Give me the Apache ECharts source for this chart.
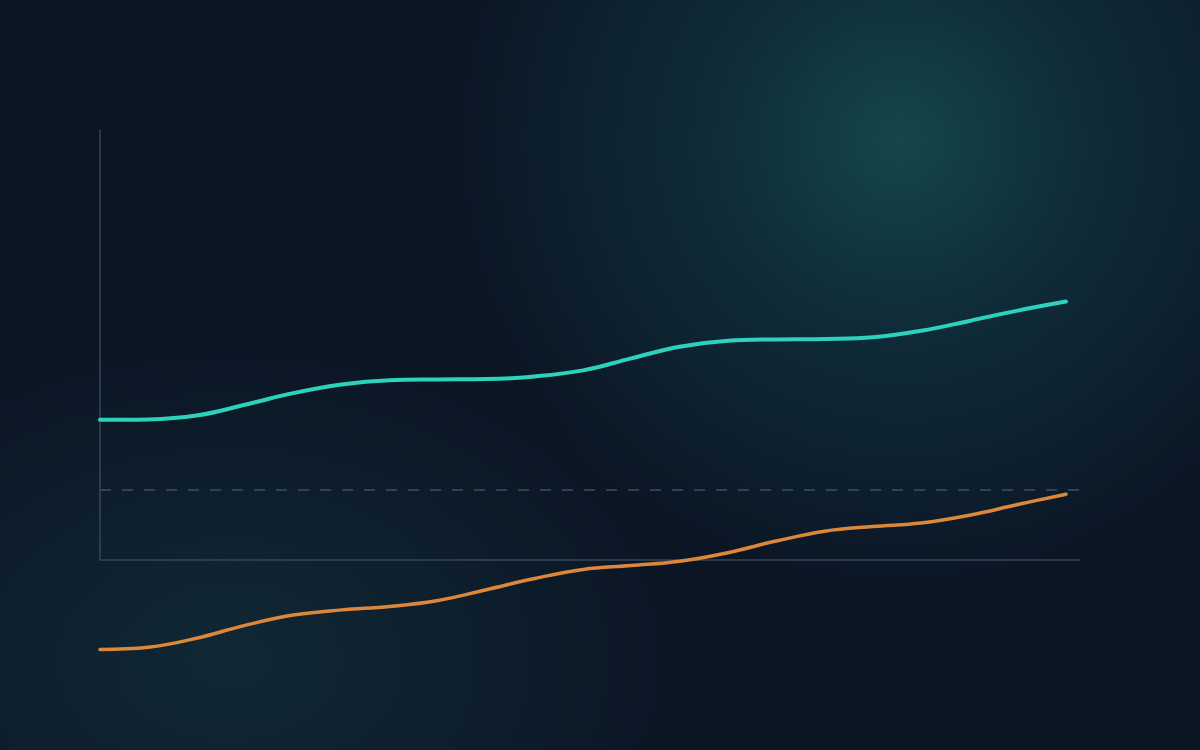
<!DOCTYPE html>
<html>
<head>
<meta charset="utf-8">
<script src="https://cdn.jsdelivr.net/npm/echarts@6/dist/echarts.min.js"></script>
<style>
  html, body { margin: 0; padding: 0; }
  body {
    width: 1200px; height: 750px; overflow: hidden;
    background:
      radial-gradient(circle at 900px 140px, rgba(22, 78, 82, 0.85) 0px, rgba(18, 60, 70, 0.6) 180px, rgba(11, 21, 36, 0) 460px),
      radial-gradient(ellipse 480px 340px at 230px 660px, rgba(18, 46, 58, 0.75) 0px, rgba(11, 21, 36, 0) 100%),
      #0b1524;
  }
  #main { width: 1200px; height: 750px; }
</style>
</head>
<body>
<div id="main"></div>
<script>
// evenly spaced samples along x
var xs = [0, 1, 2, 3, 4, 5, 6, 7, 8, 9, 10, 11, 12, 13, 14, 15, 16, 17, 18, 19, 20]

var tealValues = [32.6, 32.7, 33.6, 36.1, 38.8, 40.8, 41.8, 42.0, 42.1, 42.7, 44.1,
                  46.9, 49.6, 51.0, 51.3, 51.4, 51.8, 53.3, 55.6, 58.0, 60.1]

var orangeValues = [-20.8, -20.3, -18.2, -15.2, -12.8, -11.6, -10.8, -9.4, -6.9, -4.3, -2.2,
                    -1.3, -0.3, 1.7, 4.4, 6.7, 7.8, 8.6, 10.4, 12.9, 15.3]

var thresholdValue = 16.3

function pairs(values) {
  return values.map(function (v, i) { return [xs[i], v] })
}

var myChart = echarts.init(document.getElementById('main'))

myChart.setOption({
  backgroundColor: 'transparent',
  animation: false,
  grid: { left: 100, right: 120, top: 130, bottom: 190 },
  xAxis: {
    type: 'value',
    min: 0,
    max: 20.29,
    axisLine: { show: true, lineStyle: { color: '#34465a', width: 1.5 } },
    axisTick: { show: false },
    axisLabel: { show: false },
    splitLine: { show: false }
  },
  yAxis: {
    type: 'value',
    min: 0,
    max: 100,
    axisLine: { show: true, lineStyle: { color: '#34465a', width: 1.5 } },
    axisTick: { show: false },
    axisLabel: { show: false },
    splitLine: { show: false }
  },
  series: [
    {
      name: 'teal',
      type: 'line',
      data: pairs(tealValues),
      smooth: 0.4,
      symbol: 'none',
      clip: false,
      lineStyle: { color: '#2dd2bd', width: 4, cap: 'round' },
      markLine: {
        silent: true,
        symbol: 'none',
        label: { show: false },
        lineStyle: { color: '#3d4f61', width: 1.5, type: [11, 11] },
        data: [{ yAxis: thresholdValue }]
      }
    },
    {
      name: 'orange',
      type: 'line',
      data: pairs(orangeValues),
      smooth: 0.4,
      symbol: 'none',
      clip: false,
      lineStyle: { color: '#dd873a', width: 3.5, cap: 'round' }
    }
  ]
})
</script>
</body>
</html>
